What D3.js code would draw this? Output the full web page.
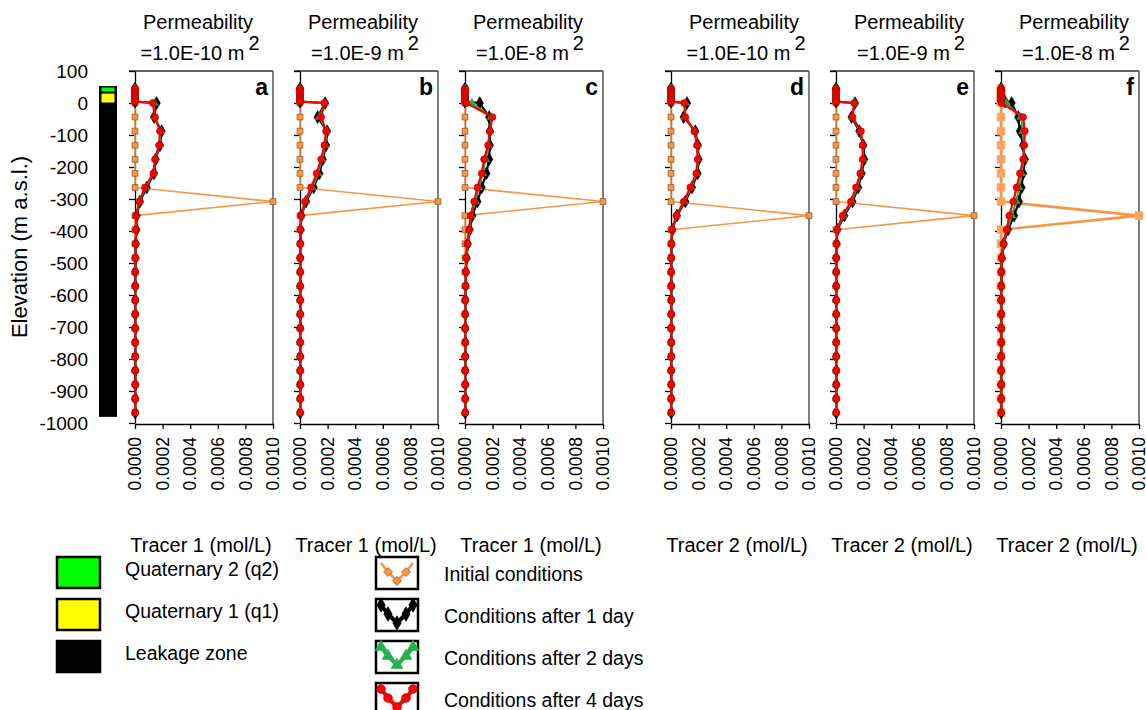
<!DOCTYPE html>
<html>
<head>
<meta charset="utf-8">
<script src="https://cdn.jsdelivr.net/npm/d3@7"></script>
<style>
  body { margin: 0; background: #fff; }
  svg { display: block; }
  text { font-family: "Liberation Sans", Arial, sans-serif; fill: #000; }
</style>
</head>
<body>
<svg id="chart" width="1146" height="710"></svg>
<script>
// Node elevations (m a.s.l.): Quaternary nodes first, then leakage-zone nodes
const elevations = [45, 40, 35, 28, 22, 16, 10, 4,
  0, -44, -88, -132, -176, -220, -264, -308, -352, -396, -440, -484,
  -528, -572, -616, -660, -704, -748, -792, -836, -880, -924, -968];

// Tracer concentrations in units of 1e-4 mol/L, one value per node
const initialT1 = [0, 0, 0, 0, 0, 0, 0, 0,
  0, 0, 0, 0, 0, 0, 0, 10, 0, 0, 0, 0, 0, 0, 0, 0, 0, 0, 0, 0, 0, 0, 0];
const initialT2 = [0, 0, 0, 0, 0, 0, 0, 0,
  0, 0, 0, 0, 0, 0, 0, 0, 10, 0, 0, 0, 0, 0, 0, 0, 0, 0, 0, 0, 0, 0, 0];

// Panel a: tracer 1, k = 1.0E-10 m2
const day1A = [0, 0, 0, 0, 0, 0, 0, 0,
  1.57, 1.38, 1.93, 1.81, 1.50, 1.38, 0.85, 0.36, 0.12, 0.10, 0.06, 0.04,
  0.02, 0.02, 0.02, 0.02, 0.02, 0.02, 0.02, 0.02, 0.02, 0.02, 0.02];
const day2A = [0, 0, 0, 0, 0, 0, 0, 0,
  1.40, 1.42, 1.87, 1.78, 1.48, 1.35, 0.78, 0.33, 0.10, 0.08, 0.05, 0.03,
  0.02, 0.02, 0.02, 0.02, 0.02, 0.02, 0.02, 0.02, 0.02, 0.02, 0.02];
const day4A = [0, 0, 0, 0, 0, 0, 0, 0,
  1.28, 1.45, 1.81, 1.74, 1.45, 1.33, 0.72, 0.31, 0.07, 0.07, 0.05, 0.03,
  0.02, 0.02, 0.02, 0.02, 0.02, 0.02, 0.02, 0.02, 0.02, 0.02, 0.02];

// Panel b: tracer 1, k = 1.0E-9 m2
const day1B = [0, 0, 0, 0, 0, 0, 0, 0,
  1.82, 1.28, 1.96, 1.89, 1.65, 1.40, 0.99, 0.44, 0.10, 0.05, 0.03, 0.02,
  0.02, 0.02, 0.02, 0.02, 0.02, 0.02, 0.02, 0.02, 0.02, 0.02, 0.02];
const day2B = [0, 0, 0, 0, 0, 0, 0, 0,
  1.80, 1.40, 1.93, 1.84, 1.60, 1.30, 0.90, 0.40, 0.09, 0.04, 0.03, 0.02,
  0.02, 0.02, 0.02, 0.02, 0.02, 0.02, 0.02, 0.02, 0.02, 0.02, 0.02];
const day4B = [0, 0, 0, 0, 0, 0, 0, 0,
  1.77, 1.53, 1.89, 1.77, 1.53, 1.21, 0.80, 0.36, 0.07, 0.03, 0.02, 0.02,
  0.02, 0.02, 0.02, 0.02, 0.02, 0.02, 0.02, 0.02, 0.02, 0.02, 0.02];

// Panel c: tracer 1, k = 1.0E-8 m2
const day1C = [0, 0, 0, 0, 0, 0, 0, 0,
  1.07, 1.75, 1.80, 1.80, 1.75, 1.55, 1.21, 0.90, 0.53, 0.34, 0.20, 0.12,
  0.07, 0.05, 0.03, 0.02, 0.02, 0.02, 0.02, 0.02, 0.02, 0.02, 0.02];
const day2C = [0, 0, 0, 0, 0, 0, 0, 0,
  0.50, 1.90, 1.82, 1.72, 1.50, 1.30, 1.00, 0.75, 0.46, 0.31, 0.18, 0.11,
  0.06, 0.04, 0.02, 0.02, 0.02, 0.02, 0.02, 0.02, 0.02, 0.02, 0.02];
const day4C = [0, 0, 0, 0, 0, 0, 0, 0,
  0.10, 1.99, 1.80, 1.67, 1.38, 1.21, 0.90, 0.66, 0.41, 0.29, 0.17, 0.10,
  0.06, 0.04, 0.02, 0.02, 0.02, 0.02, 0.02, 0.02, 0.02, 0.02, 0.02];

// Panel d: tracer 2, k = 1.0E-10 m2
const day1D = [0, 0, 0, 0, 0, 0, 0, 0,
  1.16, 0.92, 1.76, 1.95, 2.00, 1.93, 1.52, 1.04, 0.43, 0.10, 0.04, 0.02,
  0.02, 0.02, 0.02, 0.02, 0.02, 0.02, 0.02, 0.02, 0.02, 0.02, 0.02];
const day2D = [0, 0, 0, 0, 0, 0, 0, 0,
  1.05, 0.98, 1.72, 1.92, 1.97, 1.88, 1.46, 0.98, 0.41, 0.08, 0.03, 0.02,
  0.02, 0.02, 0.02, 0.02, 0.02, 0.02, 0.02, 0.02, 0.02, 0.02, 0.02];
const day4D = [0, 0, 0, 0, 0, 0, 0, 0,
  0.96, 1.04, 1.69, 1.88, 1.93, 1.83, 1.40, 0.92, 0.39, 0.07, 0.03, 0.02,
  0.02, 0.02, 0.02, 0.02, 0.02, 0.02, 0.02, 0.02, 0.02, 0.02, 0.02];

// Panel e: tracer 2, k = 1.0E-9 m2
const day1E = [0, 0, 0, 0, 0, 0, 0, 0,
  1.37, 1.13, 1.69, 1.98, 2.05, 1.86, 1.61, 1.20, 0.60, 0.10, 0.05, 0.02,
  0.02, 0.02, 0.02, 0.02, 0.02, 0.02, 0.02, 0.02, 0.02, 0.02, 0.02];
const day2E = [0, 0, 0, 0, 0, 0, 0, 0,
  1.35, 1.16, 1.75, 1.95, 1.98, 1.80, 1.53, 1.14, 0.54, 0.08, 0.04, 0.02,
  0.02, 0.02, 0.02, 0.02, 0.02, 0.02, 0.02, 0.02, 0.02, 0.02, 0.02];
const day4E = [0, 0, 0, 0, 0, 0, 0, 0,
  1.33, 1.20, 1.81, 1.93, 1.93, 1.76, 1.45, 1.08, 0.48, 0.07, 0.04, 0.02,
  0.02, 0.02, 0.02, 0.02, 0.02, 0.02, 0.02, 0.02, 0.02, 0.02, 0.02];

// Panel f: tracer 2, k = 1.0E-8 m2
const day1F = [0, 0, 0, 0, 0, 0, 0, 0.30,
  0.77, 1.25, 1.37, 1.60, 1.73, 1.60, 1.49, 1.30, 0.95, 0.50, 0.20, 0.06,
  0.03, 0.02, 0.02, 0.02, 0.02, 0.02, 0.02, 0.02, 0.02, 0.02, 0.02];
const day2F = [0, 0, 0, 0, 0, 0, 0, 0.10,
  0.40, 1.45, 1.58, 1.65, 1.66, 1.50, 1.30, 1.10, 0.78, 0.46, 0.18, 0.05,
  0.03, 0.02, 0.02, 0.02, 0.02, 0.02, 0.02, 0.02, 0.02, 0.02, 0.02];
const day4F = [0, 0, 0, 0, 0, 0, 0, 0,
  0.05, 1.60, 1.73, 1.68, 1.60, 1.37, 1.13, 0.89, 0.60, 0.41, 0.17, 0.05,
  0.03, 0.02, 0.02, 0.02, 0.02, 0.02, 0.02, 0.02, 0.02, 0.02, 0.02];

// Panel labels
const panelLetters = ["a", "b", "c", "d", "e", "f"];
const permeabilities = ["1.0E-10", "1.0E-9", "1.0E-8", "1.0E-10", "1.0E-9", "1.0E-8"];
const tracerTitles = ["Tracer 1 (mol/L)", "Tracer 1 (mol/L)", "Tracer 1 (mol/L)",
  "Tracer 2 (mol/L)", "Tracer 2 (mol/L)", "Tracer 2 (mol/L)"];
const initialSets = [initialT1, initialT1, initialT1, initialT2, initialT2, initialT2];
const day1Sets = [day1A, day1B, day1C, day1D, day1E, day1F];
const day2Sets = [day2A, day2B, day2C, day2D, day2E, day2F];
const day4Sets = [day4A, day4B, day4C, day4D, day4E, day4F];

// Axis ticks
const elevationTicks = [100, 0, -100, -200, -300, -400, -500, -600, -700, -800, -900, -1000];
const concTicks = [0, 2, 4, 6, 8, 10];

// Stratigraphic column (m a.s.l.)
const strataNames = ["Quaternary 2 (q2)", "Quaternary 1 (q1)", "Leakage zone"];
const strataTop = [50, 31, 0];
const strataBottom = [34, 0, -980];
const strataColors = ["#00ff00", "#ffff00", "#000000"];

// Series legend
const seriesNames = ["Initial conditions", "Conditions after 1 day",
  "Conditions after 2 days", "Conditions after 4 days"];

const svg = d3.select("#chart");
const PW = 138;
const panelLeft = i => 135 + i * 165 + (i >= 3 ? 41 : 0);

const y = d3.scaleLinear().domain([100, -1000]).range([71, 423]);
const x = d3.scaleLinear().domain([0, 10]).range([0, PW]);
const fmtConc = d => (d * 1e-4).toFixed(4);

// Series styles
const styles = [
  { color: "#f79646", width: 1.6, symbol: d3.symbolSquare, size: 34, fill: "#f79646", stroke: "#8a5422" },
  { color: "#000000", width: 2.2, symbol: d3.symbolDiamond, size: 46, fill: "#000000", stroke: "#000000" },
  { color: "#22b14c", width: 1.8, symbol: d3.symbolTriangle, size: 26, fill: "#22b14c", stroke: "#22b14c" },
  { color: "#ff0000", width: 2.2, symbol: d3.symbolCircle, size: 36, fill: "#ff0000", stroke: "#b00000" }
];

// Y tick labels and title
svg.append("g").selectAll("text").data(elevationTicks).join("text")
  .attr("x", 88).attr("y", d => y(d)).attr("dy", "0.35em")
  .attr("text-anchor", "end").style("font-size", "19px")
  .text(d => String(d));

svg.append("text")
  .attr("transform", `translate(27,${(y(100) + y(-1000)) / 2}) rotate(-90)`)
  .attr("text-anchor", "middle").style("font-size", "22px")
  .text("Elevation (m a.s.l.)");

// Stratigraphic column
const colX = 99, colW = 18;
svg.append("rect").attr("x", colX).attr("y", y(53)).attr("width", colW)
  .attr("height", y(-980) - y(53)).attr("fill", "#000");
svg.append("g").selectAll("rect").data(strataTop).join("rect")
  .attr("x", (d, i) => i < 2 ? colX + 2.5 : colX)
  .attr("width", (d, i) => i < 2 ? colW - 5 : colW)
  .attr("y", (d, i) => y(d) + (i < 2 ? 0.5 : 0))
  .attr("height", (d, i) => y(strataBottom[i]) - y(d) - (i < 2 ? 1 : 0))
  .attr("fill", (d, i) => strataColors[i]);

// Panels
const line = d3.line().x(d => x(d.v)).y(d => y(d.e));

panelLetters.forEach((letter, i) => {
  const g = svg.append("g").attr("transform", `translate(${panelLeft(i)},0)`);

  // Frame: top and right edges
  g.append("line").attr("x1", -6).attr("x2", PW).attr("y1", y(100)).attr("y2", y(100))
    .attr("stroke", "#333").attr("stroke-width", 1.3);
  g.append("line").attr("x1", PW).attr("x2", PW).attr("y1", y(100)).attr("y2", y(-1000) + 1)
    .attr("stroke", "#555").attr("stroke-width", 1.5);

  // Elevation axis (ticks only)
  const ya = g.append("g")
    .call(d3.axisLeft(y).tickValues(elevationTicks).tickSize(6).tickSizeOuter(0).tickFormat(""));
  ya.selectAll("path, line").attr("stroke", "#000").attr("stroke-width", 1.3);

  // Concentration axis
  const xa = g.append("g").attr("transform", `translate(0,${y(-1000) + 1})`)
    .call(d3.axisBottom(x).tickValues(concTicks).tickSize(5).tickSizeOuter(0).tickFormat(fmtConc));
  xa.selectAll("path, line").attr("stroke", "#000").attr("stroke-width", 1.3);
  xa.selectAll("text")
    .attr("transform", "rotate(-90)").attr("text-anchor", "end")
    .attr("x", -13).attr("y", 0).attr("dy", "0.33em")
    .style("font-size", "17.5px").style("font-family", "Liberation Sans, Arial, sans-serif")
    .attr("fill", "#000");

  // Profiles: initial, 1 day, 2 days, 4 days
  const sets = [initialSets[i], day1Sets[i], day2Sets[i], day4Sets[i]];
  sets.forEach((vals, s) => {
    const st = styles[s];
    // the last panel draws its initial profile with heavier, lighter-orange marks
    const heavy = (s === 0 && i === 5);
    const pts = vals.map((v, j) => ({ v: v, e: elevations[j] }));
    g.append("path").datum(pts).attr("d", line)
      .attr("fill", "none").attr("stroke", st.color)
      .attr("stroke-width", heavy ? 2.6 : st.width)
      .attr("stroke-linejoin", "round");
    g.append("g").selectAll("path").data(pts).join("path")
      .attr("transform", d => `translate(${x(d.v)},${y(d.e)})`)
      .attr("d", d3.symbol().type(st.symbol).size(heavy ? 60 : st.size))
      .attr("fill", heavy ? "#f9a35c" : st.fill)
      .attr("stroke", heavy ? "#f9a35c" : st.stroke).attr("stroke-width", 0.7);
  });

  // Panel letter
  g.append("text").attr("x", PW - 5).attr("y", 95).attr("text-anchor", "end")
    .style("font-size", "23px").style("font-weight", "bold").text(letter);

  // Title
  const cx = PW / 2 + (i < 3 ? -6 : 4);
  g.append("text").attr("x", cx).attr("y", 29).attr("text-anchor", "middle")
    .style("font-size", "20px").text("Permeability");
  const t2 = g.append("text").attr("x", cx + 2).attr("y", 60).attr("text-anchor", "middle")
    .style("font-size", "20px");
  t2.append("tspan").text("=" + permeabilities[i] + " m");
  t2.append("tspan").attr("dx", 4).attr("dy", -10).text("2");

  // Axis title
  g.append("text").attr("x", PW / 2 - 3).attr("y", 552).attr("text-anchor", "middle")
    .style("font-size", "20px").text(tracerTitles[i]);
});

// Strata legend
const lg = svg.append("g");
strataNames.forEach((name, i) => {
  const yy = 557 + i * 42;
  lg.append("rect").attr("x", 57).attr("y", yy).attr("width", 43).attr("height", 31)
    .attr("fill", strataColors[i]).attr("stroke", "#000").attr("stroke-width", 2.5);
  lg.append("text").attr("x", 125).attr("y", yy + 12).attr("dy", "0.35em")
    .style("font-size", "19.5px").text(name);
});

// Series legend
seriesNames.forEach((name, s) => {
  const st = styles[s];
  const yy = 557 + s * 42;
  const bx = 376, bw = 42, bh = 32;
  lg.append("rect").attr("x", bx).attr("y", yy).attr("width", bw).attr("height", bh)
    .attr("fill", "#fff").attr("stroke", "#000").attr("stroke-width", 2.5);
  const v = [[bx + 5, yy + 6], [bx + 12, yy + 15], [bx + bw / 2, yy + 24], [bx + bw - 12, yy + 15], [bx + bw - 5, yy + 6]];
  lg.append("path").attr("d", d3.line()(v)).attr("fill", "none")
    .attr("stroke", st.color).attr("stroke-width", s === 0 ? 2.5 : 4).attr("stroke-linejoin", "round");
  lg.append("g").selectAll("path").data(s === 0 ? v.slice(1, 4) : v).join("path")
    .attr("transform", d => `translate(${d[0]},${d[1]})` + (s === 0 ? " rotate(45)" : ""))
    .attr("d", d3.symbol().type(st.symbol).size(s === 0 ? 40 : 60))
    .attr("fill", st.fill).attr("stroke", st.stroke).attr("stroke-width", 0.7);
  lg.append("text").attr("x", 444).attr("y", yy + 17).attr("dy", "0.35em")
    .style("font-size", "19.5px").text(name);
});
</script>
</body>
</html>
